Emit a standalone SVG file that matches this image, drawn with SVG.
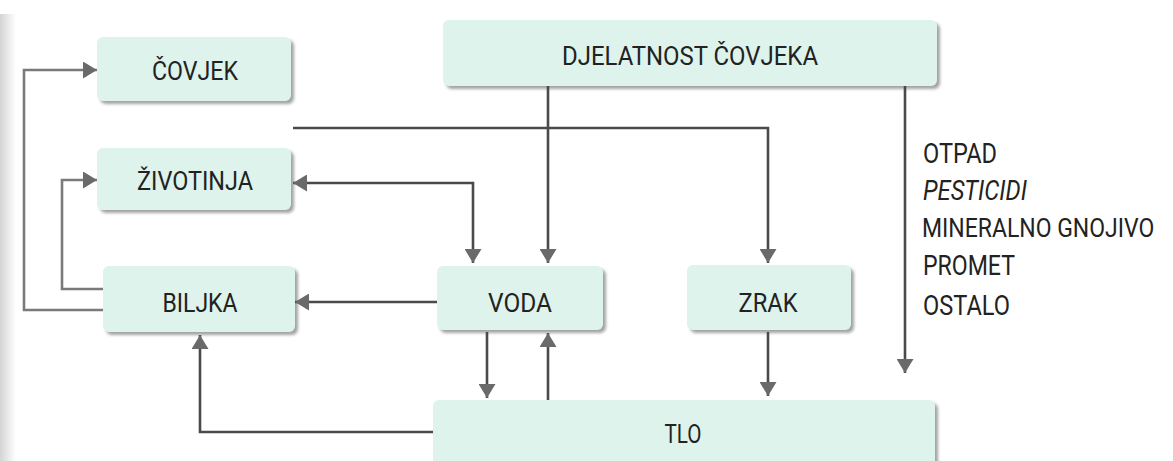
<svg xmlns="http://www.w3.org/2000/svg" width="1173" height="461" viewBox="0 0 1173 461">
<style>
.box{fill:#ddf3eb;filter:url(#sh)}
.t{font-family:Roboto,"Liberation Sans",sans-serif;font-size:26px;fill:#222;text-anchor:middle}
.l{font-family:Roboto,"Liberation Sans",sans-serif;font-size:27px;fill:#222}
.c{fill:none;stroke:#4a4a4a;stroke-width:2.6}
.cl{fill:none;stroke:#7a7a7a;stroke-width:2.6}
</style>
<defs>
<filter id="sh" x="-5%" y="-10%" width="115%" height="130%">
<feDropShadow dx="3" dy="3" stdDeviation="1.5" flood-color="#9a9a9a" flood-opacity="0.9"/>
</filter>
<marker id="ah" markerUnits="userSpaceOnUse" markerWidth="14" markerHeight="17" refX="14" refY="8.5" orient="auto-start-reverse" viewBox="0 0 14 17">
<path d="M0,0 L14,8.5 L0,17 z" fill="#6a6a6a"/>
</marker>
<linearGradient id="edge" x1="0" x2="1" y1="0" y2="0">
<stop offset="0" stop-color="#d4d4d4"/>
<stop offset="1" stop-color="#ffffff"/>
</linearGradient>
</defs>
<rect x="0" y="0" width="1173" height="461" fill="#fff"/>
<rect x="0" y="14" width="16" height="447" fill="url(#edge)"/>

<g id="covjek"><rect class="box" x="97" y="37" width="194" height="64" rx="6"/><text class="t" x="195" y="80" textLength="86" lengthAdjust="spacingAndGlyphs">ČOVJEK</text></g>
<g id="zivotinja"><rect class="box" x="97" y="148" width="194" height="62" rx="6"/><text class="t" x="195" y="190" textLength="116" lengthAdjust="spacingAndGlyphs">ŽIVOTINJA</text></g>
<g id="biljka"><rect class="box" x="103" y="266" width="192" height="66" rx="6"/><text class="t" x="200" y="312" textLength="75" lengthAdjust="spacingAndGlyphs">BILJKA</text></g>
<g id="voda"><rect class="box" x="437" y="266" width="166" height="64" rx="6"/><text class="t" x="520" y="312" textLength="64" lengthAdjust="spacingAndGlyphs">VODA</text></g>
<g id="zrak"><rect class="box" x="687" y="265" width="164" height="65" rx="6"/><text class="t" x="768" y="312" textLength="59" lengthAdjust="spacingAndGlyphs">ZRAK</text></g>
<g id="tlo"><rect class="box" x="433" y="400" width="502" height="75" rx="6"/><text class="t" x="683" y="443" textLength="37" lengthAdjust="spacingAndGlyphs">TLO</text></g>
<g id="djelatnost"><rect class="box" x="443" y="20" width="494" height="66" rx="6"/><text class="t" x="690" y="65" textLength="256" lengthAdjust="spacingAndGlyphs">DJELATNOST ČOVJEKA</text></g>

<g id="connectors">
<path class="cl" d="M103,310 H24 V70 H97" marker-end="url(#ah)"/>
<path class="cl" d="M103,289 H62 V180 H97" marker-end="url(#ah)"/>
<path class="c" d="M293,128 H768 V263" marker-end="url(#ah)"/>
<path class="c" d="M293,183 H473 V263" marker-start="url(#ah)" marker-end="url(#ah)"/>
<path class="c" d="M548,86 V263" marker-end="url(#ah)"/>
<path class="c" d="M437,302 H295" marker-end="url(#ah)"/>
<path class="c" d="M487,332 V398" marker-end="url(#ah)"/>
<path class="c" d="M548,400 V333" marker-end="url(#ah)"/>
<path class="c" d="M768,332 V396" marker-end="url(#ah)"/>
<path class="c" d="M905,86 V373" marker-end="url(#ah)"/>
<path class="c" d="M433,432 H200 V335" marker-end="url(#ah)"/>
</g>

<g id="list">
<text class="l" x="923" y="163" textLength="74" lengthAdjust="spacingAndGlyphs">OTPAD</text>
<text class="l" x="923" y="200" textLength="104" lengthAdjust="spacingAndGlyphs" font-style="italic">PESTICIDI</text>
<text class="l" x="0" y="0" style="font-size:23px" transform="translate(922,237) scale(1,1.15)">MINERALNO GNOJIVO</text>
<text class="l" x="923" y="275" textLength="92" lengthAdjust="spacingAndGlyphs">PROMET</text>
<text class="l" x="923" y="315" textLength="87" lengthAdjust="spacingAndGlyphs">OSTALO</text>
</g>
</svg>
